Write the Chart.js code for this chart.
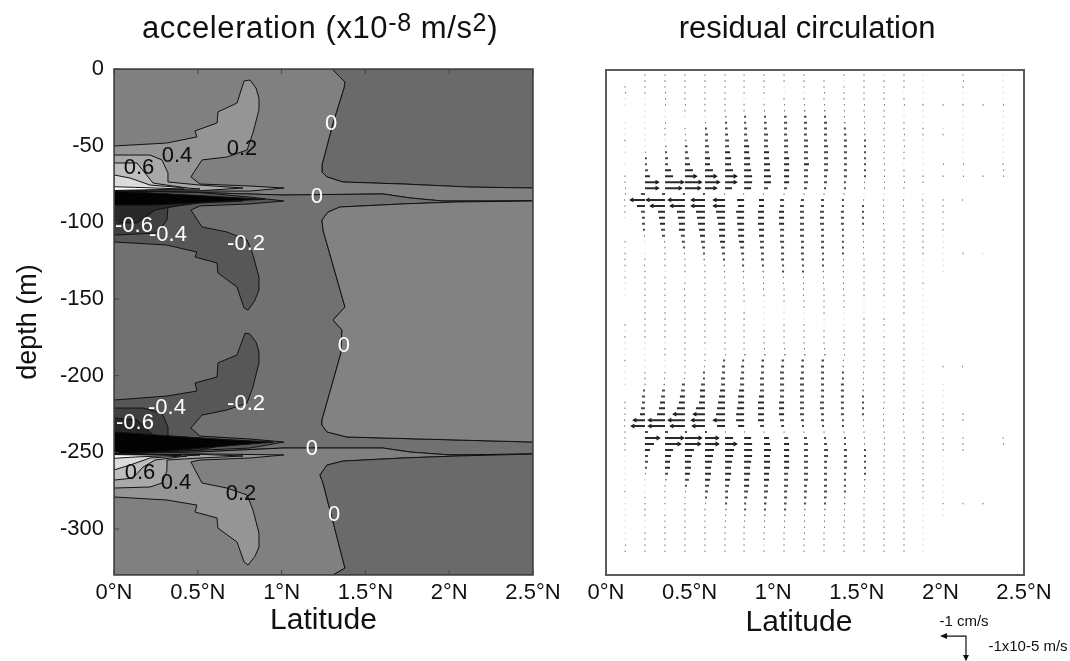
<!DOCTYPE html>
<html>
<head>
<meta charset="utf-8">
<script src="https://cdn.jsdelivr.net/npm/chart.js@4"></script>
<style>
  body { margin: 0; background: #fff; font-family: "Liberation Sans", sans-serif; color: #111; }
  #page { position: relative; width: 1070px; height: 661px; overflow: hidden; filter: blur(0.45px); }
  canvas { position: absolute; top: 0; }
  .txt { position: absolute; white-space: nowrap; transform: translate(-50%, -50%); }
  .titulo { font-size: 31px; }
  .titulo sup { font-size: 25px; line-height: 0; vertical-align: 7px; }
  .eixo { font-size: 30px; }
  .chave { font-size: 15px; }
</style>
</head>
<body>
<div id="page">
  <canvas id="graficoAcel" width="572" height="661" style="left:0"></canvas>
  <canvas id="graficoCirc" width="498" height="661" style="left:572px"></canvas>
  <div class="txt titulo" style="left:320px;top:28px;letter-spacing:0.6px">acceleration (x10<sup>-8</sup> m/s<sup>2</sup>)</div>
  <div class="txt titulo" style="left:807px;top:28px">residual circulation</div>
  <div class="txt eixo" style="left:799px;top:621px">Latitude</div>
  <div class="txt chave" style="left:964px;top:620px">-1 cm/s</div>
  <div class="txt chave" style="left:1028px;top:645px">-1x10-5 m/s</div>
</div>
<script>
const latTicks = [0, 0.5, 1, 1.5, 2, 2.5];
const depthTicks = [0, -50, -100, -150, -200, -250, -300];

// contours of the acceleration field, [latitude, depth]
const negTopRight = [[1.301,0],[2.5,0],[2.5,-77.6],[2.124,-77],[1.724,-75],[1.366,-73.7],[1.271,-70.4],[1.241,-67.2],[1.241,-62.6],[1.307,-35.2],[1.372,-12.4],[1.378,-8.5]];
const posTop = [[0,0],[1.301,0],[1.378,-8.5],[1.372,-12.4],[1.307,-35.2],[1.241,-62.6],[1.241,-67.2],[1.271,-70.4],[1.366,-73.7],[1.724,-75],[2.124,-77],[2.5,-77.6],[2.5,-86.1],[1.963,-86.1],[1.766,-84.1],[1.605,-81.5],[1.008,-82.2],[0.5,-80.5],[0,-79.6]];
const negMid = [[0,-79.6],[0.5,-80.5],[1.008,-82.2],[1.605,-81.5],[1.766,-84.1],[1.963,-86.1],[2.5,-86.1],[2.047,-86.7],[1.724,-88],[1.348,-90],[1.277,-93.3],[1.241,-98.5],[1.247,-105],[1.378,-155.2],[1.307,-163.7],[1.36,-170.2],[1.354,-185.2],[1.241,-228.9],[1.241,-232.2],[1.271,-236.7],[1.39,-240],[1.826,-241.3],[2.5,-243.3],[2.5,-251.1],[2.005,-251.7],[1.766,-249.8],[1.605,-247.2],[1.008,-247.2],[0.5,-249.8],[0,-251.1]];
const posMid = [[2.5,-86.1],[2.047,-86.7],[1.724,-88],[1.348,-90],[1.277,-93.3],[1.241,-98.5],[1.247,-105],[1.378,-155.2],[1.307,-163.7],[1.36,-170.2],[1.354,-185.2],[1.241,-228.9],[1.241,-232.2],[1.271,-236.7],[1.39,-240],[1.826,-241.3],[2.5,-243.3]];
const posBottom = [[0,-251.1],[0.5,-249.8],[1.008,-247.2],[1.605,-247.2],[1.766,-249.8],[2.005,-251.7],[2.5,-251.1],[2.047,-252.4],[1.724,-253.7],[1.366,-255.7],[1.271,-258.3],[1.229,-264.8],[1.247,-270],[1.378,-325.5],[1.307,-330],[0,-330]];
const negBottomRight = [[2.5,-251.1],[2.047,-252.4],[1.724,-253.7],[1.366,-255.7],[1.271,-258.3],[1.229,-264.8],[1.247,-270],[1.378,-325.5],[1.307,-330],[2.5,-330]];

const pos02Top = [[0,-50.2],[0.314,-48.3],[0.495,-44.3],[0.483,-40.4],[0.615,-35.2],[0.62,-28],[0.734,-22.2],[0.776,-7.8],[0.811,-7.2],[0.847,-12.4],[0.865,-18.9],[0.865,-26.7],[0.829,-41.7],[0.794,-52.8],[0.674,-57.4],[0.525,-59.3],[0.459,-70.4],[0.513,-75],[0.811,-76.3],[1.014,-77.6],[0.811,-79.6],[0.156,-79.6],[0,-79.6]];
const pos04Top = [[0,-56.1],[0.215,-56.1],[0.286,-59.3],[0.322,-67.8],[0.322,-73.7],[0.513,-75.7],[0.77,-77.6],[0.513,-79.4],[0,-79.6]];
const pos06Top = [[0,-61.3],[0.137,-61.3],[0.233,-74.4],[0.436,-77.6],[0,-79.6]];
const pos08Top = [[0,-69.1],[0.095,-71.1],[0.215,-75.7],[0.513,-78.3],[0,-79.4]];
const pos10Top = [[0,-76.8],[0.13,-77.2],[0.42,-78.3],[0,-79.2]];

const neg02Top = [[0,-79.6],[0.5,-80.5],[0.811,-83.5],[1.014,-86.1],[0.811,-88],[0.513,-89.3],[0.459,-92],[0.525,-103],[0.674,-106.3],[0.794,-111.5],[0.829,-121.3],[0.865,-135.7],[0.865,-144.1],[0.84,-151],[0.8,-157.2],[0.776,-155.9],[0.734,-142.2],[0.62,-133],[0.615,-126.5],[0.483,-122.6],[0.495,-119.4],[0.314,-114.8],[0,-112.8]];
const neg04Top = [[0,-108.3],[0.257,-107],[0.316,-98.5],[0.322,-90],[0.513,-87.4],[0.77,-86.1],[0.513,-83],[0,-79.6]];
const neg06Top = [[0,-100.4],[0.137,-100.4],[0.245,-92],[0.436,-88],[0.6,-85],[0.3,-82],[0,-79.6]];
const neg08Top = [[0,-88.7],[0.25,-88.7],[0.6,-86.5],[0.9,-85],[0.5,-82.5],[0,-79.6]];

const neg02Bot = [[0,-215.9],[0.316,-213.3],[0.495,-210],[0.483,-204.8],[0.615,-200.9],[0.62,-191.7],[0.734,-186.5],[0.782,-172.2],[0.811,-172.8],[0.847,-178],[0.865,-184.5],[0.865,-191.7],[0.829,-207.4],[0.794,-217.8],[0.674,-222.4],[0.525,-225.7],[0.459,-234.1],[0.513,-239.4],[0.811,-241.3],[1.014,-243.3],[0.811,-247.2],[0,-251.1]];
const neg04Bot = [[0,-221.1],[0.173,-221.1],[0.286,-224.4],[0.322,-233.5],[0.322,-239.4],[0.513,-240.7],[0.77,-242.6],[0.513,-248.5],[0,-251.1]];
const neg06Bot = [[0,-227.6],[0.137,-228.9],[0.233,-238.7],[0.436,-241.3],[0.6,-243.3],[0.436,-248],[0,-251.1]];
const neg08Bot = [[0,-236.7],[0.25,-238.7],[0.6,-241.3],[0.95,-243.3],[0.6,-246.5],[0.3,-249.5],[0,-251.1]];

const pos02Bot = [[0,-251.7],[0.513,-251],[1.014,-251.7],[0.811,-253.7],[0.513,-255],[0.459,-256.3],[0.525,-270],[0.674,-273.3],[0.794,-277.8],[0.829,-287.6],[0.865,-302.6],[0.865,-311.8],[0.84,-318],[0.8,-323.5],[0.776,-321.5],[0.734,-308.5],[0.62,-299.4],[0.615,-292.8],[0.483,-288.9],[0.495,-284.4],[0.316,-281.1],[0,-279.1]];
const pos04Bot = [[0,-273.3],[0.215,-272.6],[0.286,-270],[0.316,-262],[0.316,-255],[0.513,-253.7],[0.77,-252.4],[0.513,-251.3],[0,-251.7]];
const pos06Bot = [[0,-268.1],[0.113,-266.8],[0.173,-259.6],[0.245,-255],[0.436,-252.4],[0,-251.7]];
const pos08Bot = [[0,-261.5],[0.095,-258.3],[0.215,-253.7],[0.513,-251.7],[0,-251.7]];
const pos10Bot = [[0,-253.9],[0.13,-253],[0.4,-252],[0,-251.5]];

const labelText = ['0','0','0','0','0','0.2','0.4','0.6','-0.6','-0.4','-0.2','-0.2','-0.4','-0.6','0.6','0.4','0.2'];
const labelLat = [1.295,1.211,1.372,1.181,1.313,0.764,0.376,0.149,0.119,0.322,0.788,0.788,0.316,0.125,0.155,0.37,0.758];
const labelDepth = [-35.9,-83.5,-180.7,-247.8,-290.9,-52.2,-56.7,-64.6,-102.4,-108.3,-114.1,-218.5,-221.1,-230.9,-263.5,-270,-277.2];

// residual circulation grid
const colLat = [0.114,0.233,0.353,0.472,0.592,0.712,0.826,0.945,1.065,1.184,1.304,1.423,1.543,1.663,1.782,1.896,2.016,2.135,2.255,2.375];
const rowDepth = [-3.3,-7.2,-11,-14.9,-18.8,-22.7,-26.6,-30.5,-34.4,-38.3,-42.2,-46,-49.9,-53.8,-57.7,-61.6,-65.5,-69.4,-73.3,-77.2,-81,-84.9,-88.8,-92.7,-96.6,-100.5,-104.4,-108.3,-112.2,-116,-119.9,-123.8,-127.7,-131.6,-135.5,-139.4,-143.3,-147.2,-151,-154.9,-158.8,-162.7,-166.6,-170.5,-174.4,-178.3,-182.2,-186,-189.9,-193.8,-197.7,-201.6,-205.5,-209.4,-213.3,-217.2,-221,-224.9,-228.8,-232.7,-236.6,-240.5,-244.4,-248.3,-252.2,-256,-259.9,-263.8,-267.7,-271.6,-275.5,-279.4,-283.3,-287.2,-291,-294.9,-298.8,-302.7,-306.6,-310.5,-314.4];
// u in 0.01 cm/s, one row per depth
const residualU = [
  [0,2,2,2,2,2,2,2,2,2,0,2,2,1,2,1,0,2,0,1],
  [0,2,2,2,2,2,2,2,2,2,2,1,2,2,2,1,0,4,0,1],
  [2,2,2,2,2,2,2,2,1,2,2,2,2,2,2,1,0,2,0,1],
  [4,2,4,2,2,2,2,2,1,1,4,2,2,2,1,1,0,1,0,1],
  [1,1,4,2,2,2,1,1,2,2,2,2,2,2,2,1,0,1,0,1],
  [1,1,4,4,2,2,2,2,4,4,4,4,4,4,4,2,2,2,2,4],
  [0,1,1,2,2,2,2,4,4,6,6,4,2,2,1,1,0,1,0,1],
  [0,1,1,1,1,6,8,8,10,10,8,4,4,2,1,1,0,1,0,1],
  [1,1,4,0,4,8,8,10,12,12,12,6,4,4,2,1,0,1,0,1],
  [1,1,2,2,8,10,12,12,12,12,12,8,4,2,2,2,1,1,0,1],
  [1,1,2,4,12,12,12,16,12,12,12,10,6,2,4,2,2,1,0,1],
  [2,1,1,6,12,16,16,16,16,16,12,12,8,2,2,1,0,1,0,1],
  [1,1,6,10,16,16,20,16,16,16,16,12,8,4,4,1,0,1,0,1],
  [1,4,8,12,16,20,20,20,16,16,16,12,8,2,2,1,0,1,0,1],
  [0,8,12,16,20,24,24,20,20,16,16,12,8,2,2,1,0,1,0,1],
  [1,8,12,20,20,24,24,24,20,20,16,12,8,4,1,1,4,4,0,2],
  [0,12,24,32,32,32,28,24,20,16,16,12,8,4,2,1,0,1,0,4],
  [2,20,32,40,40,40,32,28,20,16,12,12,8,4,2,2,2,4,2,4],
  [2,48,68,60,52,40,32,28,20,16,12,8,4,4,4,2,0,0,0,0],
  [4,48,60,56,40,28,28,16,12,12,8,8,4,4,2,0,0,0,0,0],
  [4,-16,-12,-8,-8,-4,-4,-4,-2,-2,2,2,1,1,1,1,0,0,0,0],
  [-4,-52,-68,-60,-48,-40,-28,-20,-16,-12,-12,-8,-4,-4,-4,-4,-2,-4,0,0],
  [-2,-32,-52,-52,-48,-40,-24,-20,-16,-16,-12,-8,-8,-4,-4,-2,-2,0,0,0],
  [-2,-16,-28,-32,-36,-36,-32,-24,-20,-16,-16,-12,-8,-4,-2,-2,-2,0,0,0],
  [-1,-12,-24,-28,-32,-32,-28,-24,-20,-16,-16,-12,-8,-4,-2,-2,-1,0,0,0],
  [0,-12,-20,-24,-28,-28,-28,-24,-20,-16,-16,-12,-8,-4,-2,-2,-2,0,0,0],
  [0,-8,-16,-24,-24,-24,-24,-20,-16,-16,-12,-8,-6,-2,-2,-2,-2,0,0,0],
  [0,-4,-12,-16,-20,-24,-24,-20,-16,-16,-12,-8,-6,-2,-2,-2,-1,0,0,0],
  [-2,-1,-4,-12,-16,-20,-20,-16,-16,-12,-12,-8,-4,-2,-2,-2,-1,0,0,0],
  [-1,0,-2,-8,-12,-16,-16,-16,-12,-12,-12,-8,-4,-2,-2,-2,-1,0,0,0],
  [-2,-1,-2,-4,-8,-12,-12,-12,-12,-12,-8,-8,-4,-2,-2,-2,-1,-2,-1,0],
  [-2,-2,-2,-2,-6,-8,-8,-12,-12,-10,-8,-4,-2,-2,-2,-1,-1,0,0,0],
  [-2,-4,-2,-2,-2,-6,-8,-8,-8,-8,-8,-6,-2,-2,-2,-1,-1,0,0,0],
  [-1,-2,-1,-2,-2,-4,-6,-6,-8,-8,-6,-4,-2,-2,-2,-1,-1,0,0,0],
  [-2,-2,-2,-1,-2,-4,-4,-4,-4,-4,-4,-4,-2,-2,-2,-1,0,0,0,0],
  [-1,-2,-2,-2,-2,-2,-4,-4,-4,-4,-4,-4,-2,-2,-2,-2,0,0,0,0],
  [-1,-2,-2,-4,-2,-2,-2,-4,-2,-4,-2,-4,-2,-2,-2,-1,0,0,0,0],
  [-1,-2,-2,-2,-2,-2,-2,-2,-2,-4,-2,-2,-2,-2,-2,-1,0,0,0,0],
  [0,-2,-2,-4,-2,-2,-2,-1,-2,-2,-2,-2,-1,-1,-2,-1,0,0,0,0],
  [0,-2,-2,-2,-2,-2,-1,-1,-1,-2,-2,-2,-1,-1,-2,-1,0,0,0,0],
  [0,-2,-2,-2,-2,-2,-2,-1,-1,-1,-2,-1,-1,-1,-2,-1,0,0,0,0],
  [0,2,2,2,2,2,2,1,1,1,1,1,2,2,1,1,0,0,0,0],
  [-2,2,2,2,2,2,2,1,2,2,1,1,2,2,2,1,0,0,0,0],
  [1,2,2,2,2,2,2,2,2,2,2,2,2,1,2,1,0,0,0,0],
  [2,2,2,2,2,2,2,2,2,2,2,2,2,2,2,1,0,0,0,0],
  [1,1,1,2,2,2,2,2,2,2,2,2,2,1,2,1,0,0,0,0],
  [1,1,2,2,1,2,2,4,4,4,4,2,2,2,2,1,0,0,0,0],
  [1,1,2,2,2,4,6,6,6,6,6,4,2,2,2,1,0,0,0,0],
  [-2,-1,-1,-2,-2,-8,-8,-10,-10,-10,-10,-4,-2,-2,-2,-1,0,0,0,0],
  [-1,-1,-1,-2,-4,-12,-12,-12,-12,-12,-12,-6,-2,-2,-2,-1,-2,-4,0,0],
  [-1,-2,-2,-2,-8,-12,-12,-12,-16,-12,-12,-8,-4,-2,-2,-1,0,0,0,0],
  [-1,-2,-4,-4,-8,-16,-16,-16,-16,-16,-12,-8,-4,-2,-2,-1,0,0,0,0],
  [-1,-2,-6,-12,-16,-16,-16,-16,-16,-16,-12,-12,-4,-2,-2,-1,-1,0,0,0],
  [0,-8,-12,-16,-20,-20,-20,-16,-16,-16,-12,-12,-6,-2,-2,-1,-1,0,0,0],
  [0,-12,-16,-20,-20,-24,-24,-20,-16,-16,-12,-12,-8,-2,-2,-1,-1,0,0,0],
  [-2,-12,-20,-24,-24,-28,-24,-24,-20,-16,-16,-12,-8,-2,-2,-2,-1,0,0,0],
  [-2,-16,-24,-32,-36,-32,-28,-24,-20,-16,-16,-12,-8,-4,-2,-2,-1,0,0,0],
  [-2,-20,-32,-40,-40,-36,-32,-24,-20,-16,-12,-12,-8,-4,-4,-2,-2,-2,0,0],
  [-4,-40,-60,-60,-48,-40,-32,-24,-16,-12,-12,-8,-4,-4,-4,-2,-2,-2,0,0],
  [-4,-48,-60,-52,-44,-32,-24,-16,-12,-8,-8,-8,-4,-4,-2,-2,-2,0,0,0],
  [2,12,12,8,8,4,4,2,2,2,2,2,2,2,2,2,1,1,0,0],
  [2,52,68,60,48,32,28,20,16,12,8,8,4,4,4,4,2,2,0,2],
  [2,36,56,56,48,40,32,24,20,16,12,8,4,4,2,2,2,2,0,4],
  [2,20,32,36,36,36,32,28,20,16,16,12,8,4,2,2,2,2,0,0],
  [1,12,24,28,32,32,32,24,20,16,16,12,8,2,2,2,1,0,0,0],
  [1,12,20,24,28,28,28,24,20,16,12,12,8,2,2,2,1,0,0,0],
  [1,8,20,24,24,24,24,24,20,16,12,12,8,2,2,2,1,0,0,0],
  [1,4,12,20,24,24,24,20,16,16,12,8,8,2,2,2,1,0,0,0],
  [1,1,6,16,20,20,20,20,16,16,12,8,6,2,2,2,1,0,0,0],
  [1,1,2,8,16,16,20,16,16,12,12,8,4,2,2,2,1,0,0,0],
  [2,1,2,4,12,12,16,16,12,12,12,8,4,2,2,2,1,0,0,0],
  [1,2,2,2,8,12,12,12,12,10,10,6,2,2,2,2,1,0,0,0],
  [1,2,2,2,4,8,8,10,10,8,8,6,2,2,2,1,2,2,2,0],
  [1,2,1,2,2,6,8,8,8,6,6,4,2,2,2,1,1,0,0,0],
  [1,2,2,2,2,4,6,6,6,4,4,4,2,2,2,1,1,0,0,0],
  [1,1,2,2,2,4,4,4,4,4,4,4,2,2,2,1,0,0,0,0],
  [1,1,2,2,2,2,2,4,4,4,4,2,2,2,2,1,0,0,0,0],
  [1,2,2,2,2,2,2,2,2,4,2,2,2,2,2,1,0,0,0,0],
  [1,2,2,2,2,2,2,2,2,2,2,2,2,2,2,1,0,0,0,0],
  [4,2,2,2,2,2,2,1,2,2,2,2,2,2,2,1,0,0,0,0],
  [2,2,2,2,2,2,2,2,2,2,2,2,2,2,2,1,0,0,0,0]
];

// scale key under the right panel
const keyLat = [2.01, 2.153, 2.153];
const keyDepth = [-369.9, -369.9, -385.6];

const LAT_POR_U = 0.001495; // 100 units (1 cm/s) is the same length as the key arrow

function eixoX(mostrar) {
  return {
    type: 'linear', min: 0, max: 2.5,
    afterFit: (s) => { s.height = 86; },
    afterBuildTicks: (s) => { s.ticks = latTicks.map((v) => ({ value: v })); },
    grid: { display: false, tickLength: 0 },
    border: { display: false },
    title: mostrar,
    ticks: {
      color: '#111', padding: 5, maxRotation: 0, autoSkip: false,
      font: { family: 'Liberation Sans', size: 22 },
      callback: (v) => v + '°N'
    }
  };
}

// frame and inward ticks
const moldura = {
  id: 'moldura',
  afterDatasetsDraw(chart, args, opts) {
    const { ctx, chartArea: a, scales: { x, y } } = chart;
    ctx.save();
    ctx.strokeStyle = opts.cor;
    ctx.lineWidth = opts.largura;
    ctx.strokeRect(a.left, a.top, a.right - a.left, a.bottom - a.top);
    if (opts.marcas) {
      ctx.lineWidth = 1;
      ctx.beginPath();
      latTicks.forEach((v) => {
        const px = x.getPixelForValue(v);
        ctx.moveTo(px, a.top); ctx.lineTo(px, a.top + 5);
        ctx.moveTo(px, a.bottom); ctx.lineTo(px, a.bottom - 5);
      });
      depthTicks.forEach((v) => {
        const py = y.getPixelForValue(v);
        ctx.moveTo(a.left, py); ctx.lineTo(a.left + 5, py);
      });
      ctx.stroke();
    }
    ctx.restore();
  }
};

// scatter datasets carry the contours, this closes and fills them
const preenchimento = {
  id: 'preenchimento',
  beforeDatasetDraw(chart, args) {
    const { ctx, chartArea: a } = chart;
    const pts = args.meta.data;
    const ds = chart.data.datasets[args.index];
    ctx.save();
    ctx.beginPath();
    ctx.rect(a.left, a.top, a.right - a.left, a.bottom - a.top);
    ctx.clip();
    ctx.beginPath();
    pts.forEach((p, i) => (i ? ctx.lineTo(p.x, p.y) : ctx.moveTo(p.x, p.y)));
    ctx.closePath();
    ctx.fillStyle = ds.backgroundColor;
    ctx.fill();
    ctx.strokeStyle = '#111';
    ctx.lineWidth = 1;
    ctx.stroke();
    ctx.restore();
  }
};

const rotulos = {
  id: 'rotulos',
  afterDatasetsDraw(chart) {
    const { ctx, scales: { x, y } } = chart;
    ctx.save();
    ctx.font = '22px "Liberation Sans"';
    ctx.textAlign = 'center';
    ctx.textBaseline = 'middle';
    labelText.forEach((t, i) => {
      ctx.fillStyle = t === '0' || t[0] === '-' ? '#fff' : '#0c0c0c';
      ctx.fillText(t, x.getPixelForValue(labelLat[i]), y.getPixelForValue(labelDepth[i]));
    });
    ctx.restore();
  }
};

// arrow heads of the key sit outside the plot area, point elements would be skipped there
const pontaChave = {
  id: 'pontaChave',
  afterDatasetsDraw(chart) {
    const { ctx, scales: { x, y } } = chart;
    const hx = x.getPixelForValue(keyLat[0]), hy = y.getPixelForValue(keyDepth[0]);
    const vx = x.getPixelForValue(keyLat[2]), vy = y.getPixelForValue(keyDepth[2]);
    ctx.save();
    ctx.fillStyle = '#111';
    ctx.beginPath();
    ctx.moveTo(hx - 2, hy); ctx.lineTo(hx + 5, hy - 3); ctx.lineTo(hx + 5, hy + 3); ctx.closePath();
    ctx.moveTo(vx, vy + 1); ctx.lineTo(vx - 3, vy - 5); ctx.lineTo(vx + 3, vy - 5); ctx.closePath();
    ctx.fill();
    ctx.restore();
  }
};

function contorno(data, cor) {
  return { data, backgroundColor: cor, pointRadius: 0, showLine: false };
}

new Chart(document.getElementById('graficoAcel'), {
  type: 'scatter',
  data: {
    datasets: [
      // chart.js draws the last dataset first, so the top layers come first
      contorno(pos10Bot, '#ffffff'),
      contorno(pos08Bot, '#dcdcdc'),
      contorno(pos06Bot, '#bebebe'),
      contorno(pos04Bot, '#a8a8a8'),
      contorno(pos02Bot, '#959595'),
      contorno(neg08Bot, '#030303'),
      contorno(neg06Bot, '#282828'),
      contorno(neg04Bot, '#404040'),
      contorno(neg02Bot, '#575757'),
      contorno(neg08Top, '#030303'),
      contorno(neg06Top, '#282828'),
      contorno(neg04Top, '#404040'),
      contorno(neg02Top, '#575757'),
      contorno(pos10Top, '#ffffff'),
      contorno(pos08Top, '#dcdcdc'),
      contorno(pos06Top, '#bebebe'),
      contorno(pos04Top, '#a8a8a8'),
      contorno(pos02Top, '#959595'),
      contorno(negBottomRight, '#6a6a6a'),
      contorno(posBottom, '#808080'),
      contorno(posMid, '#828282'),
      contorno(negMid, '#717171'),
      contorno(posTop, '#808080'),
      contorno(negTopRight, '#6a6a6a')
    ]
  },
  options: {
    responsive: false,
    animation: false,
    layout: { padding: { top: 69, right: 39 } },
    plugins: {
      legend: { display: false },
      tooltip: { enabled: false },
      moldura: { cor: '#444', largura: 1.5, marcas: true }
    },
    scales: {
      x: eixoX({ display: true, text: 'Latitude', color: '#111', font: { family: 'Liberation Sans', size: 30 }, padding: { top: 0, bottom: 22 } }),
      y: {
        type: 'linear', min: -330, max: 0,
        afterFit: (s) => { s.width = 114; },
        afterBuildTicks: (s) => { s.ticks = depthTicks.map((v) => ({ value: v })); },
        grid: { display: false, tickLength: 0 },
        border: { display: false },
        title: { display: true, text: 'depth (m)', color: '#111', font: { family: 'Liberation Sans', size: 27 }, padding: { top: 12, bottom: 0 } },
        ticks: { color: '#111', padding: 10, font: { family: 'Liberation Sans', size: 22 }, callback: (v) => String(v) }
      }
    }
  },
  plugins: [preenchimento, moldura, rotulos]
});

// arrows are split by strength, weak ones come out as faint dots
const setas = { faint: [], weak: [], small: [], medium: [], strong: [] };
const pontas = [];
residualU.forEach((linha, r) => {
  linha.forEach((u, c) => {
    if (u === 0) return;
    const m = Math.abs(u);
    const base = { x: colLat[c], y: rowDepth[r] };
    if (m === 1) { setas.faint.push(base); return; }
    if (m === 2) { setas.weak.push(base); return; }
    const ponta = { x: colLat[c] + u * LAT_POR_U, y: rowDepth[r] };
    const grupo = m < 8 ? setas.small : m < 20 ? setas.medium : setas.strong;
    grupo.push(base, ponta, { x: NaN, y: NaN });
    if (m >= 40) pontas.push({ x: ponta.x, y: ponta.y, rot: u > 0 ? 90 : -90 });
  });
});

function pontos(data, cor, raio) {
  return { data, pointRadius: raio, pointBackgroundColor: cor, pointBorderWidth: 0, showLine: false };
}
function linhas(data, cor, largura) {
  return { data, borderColor: cor, borderWidth: largura, pointRadius: 0, showLine: true, spanGaps: false };
}

const chave = keyLat.map((v, i) => ({ x: v, y: keyDepth[i] }));

new Chart(document.getElementById('graficoCirc'), {
  type: 'scatter',
  data: {
    datasets: [
      pontos(setas.faint, '#dcdcdc', 0.8),
      pontos(setas.weak, '#a8a8a8', 0.9),
      linhas(setas.small, '#777', 1.5),
      linhas(setas.medium, '#4a4a4a', 2),
      linhas(setas.strong, '#2a2a2a', 2),
      {
        data: pontas, pointRadius: 2.8, pointStyle: 'triangle', pointBorderWidth: 0,
        pointBackgroundColor: '#111', showLine: false,
        pointRotation: (ctx) => (ctx.raw ? ctx.raw.rot : 0)
      },
      { data: chave, borderColor: '#111', borderWidth: 1.2, pointRadius: 0, showLine: true, clip: false }
    ]
  },
  options: {
    responsive: false,
    animation: false,
    layout: { padding: { top: 70, left: 34, right: 46 } },
    plugins: {
      legend: { display: false },
      tooltip: { enabled: false },
      moldura: { cor: '#5a5a5a', largura: 2, marcas: false }
    },
    scales: {
      x: eixoX({ display: false }),
      y: { type: 'linear', min: -330, max: 0, display: false }
    }
  },
  plugins: [moldura, pontaChave]
});
</script>
</body>
</html>
